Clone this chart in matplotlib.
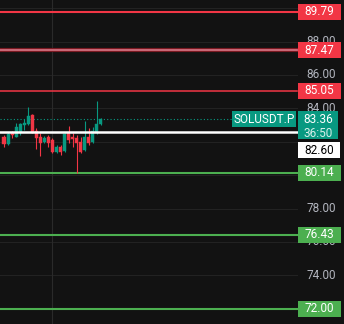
import matplotlib.pyplot as plt
import numpy as np

# candles (oldest -> newest)
opens = [82.31, 81.87, 82.55, 82.31, 82.60, 82.99, 83.05, 83.62, 82.67, 82.31, 81.97, 82.31, 82.11,
         81.39, 81.71, 81.47, 82.51, 82.31, 82.21, 82.01, 81.51, 82.31, 82.01, 82.51, 83.05]
highs = [82.41, 82.60, 82.67, 83.10, 83.15, 83.35, 84.10, 83.66, 82.81, 82.51, 82.35, 82.41, 82.21,
         81.81, 81.81, 82.55, 82.95, 82.51, 82.41, 82.31, 83.26, 82.85, 82.90, 84.44, 83.41]
lows = [81.71, 81.81, 82.21, 82.27, 82.41, 82.71, 82.99, 82.51, 81.55, 81.15, 81.91, 81.71, 81.31,
        81.31, 81.21, 81.41, 81.91, 81.67, 80.15, 81.35, 81.47, 81.81, 81.95, 82.47, 83.00]
closes = [81.87, 82.47, 82.41, 82.90, 83.05, 83.10, 83.56, 82.55, 82.21, 81.95, 82.25, 81.95, 81.39,
          81.71, 81.41, 82.47, 82.11, 82.15, 81.91, 81.41, 82.31, 81.95, 82.67, 83.07, 83.36]

resistance = [89.79, 87.47, 85.05]
support = [80.14, 76.43, 72.00]
ticks = [90, 88, 86, 84, 82, 80, 78, 76, 74, 72]
symbol = 'SOLUSDT.P'
last_price = 83.36
countdown = '36:50'
cur_price = 82.60

BG = '#121212'
UP = '#089981'
DOWN = '#f23645'
GREEN = '#4caf50'
AXIS_TXT = '#b2b5be'

plt.rcParams['font.family'] = ['Roboto', 'DejaVu Sans']

fig = plt.figure(figsize=(3.44, 3.24), dpi=100)
fig.patch.set_facecolor(BG)
ax = fig.add_axes([0, 0, 1, 1])
ax.set_facecolor(BG)
ax.set_axis_off()

ymin, ymax = 71.09, 90.49
ax.set_ylim(ymin, ymax)
ax.set_xlim(-0.99, 84.16)
px = (ymax - ymin) / 324  # one pixel in price units
xend = 297 / 344  # where the price scale starts

# grid
for t in ticks:
    ax.axhline(t, xmax=xend, color='#222222', lw=0.8, zorder=0)
ax.axvline(12, color='#2a2a2a', lw=0.8, zorder=0)

# candles
o = np.array(opens)
c = np.array(closes)
x = np.arange(len(o))
cols = np.where(c >= o, UP, DOWN)
ax.vlines(x, lows, highs, colors=cols, lw=0.8, zorder=3)
ax.bar(x, np.maximum(np.abs(c - o), px), bottom=np.minimum(o, c), width=0.75,
       color=cols, edgecolor=cols, lw=0.3, zorder=4)

# alert lines
for i, lv in enumerate(resistance):
    if i == 1:
        ax.axhline(lv, xmax=xend, color='#7a1a22', lw=3.0, zorder=2)
        ax.axhline(lv, xmax=xend, color='#d07080', lw=1.3, zorder=2)
    else:
        ax.axhline(lv, xmax=xend, color=DOWN, lw=1.5 if i == 0 else 1.1, zorder=2)
for lv in support:
    ax.axhline(lv, xmax=xend, color=GREEN, lw=1.5, zorder=2)

ax.axhline(cur_price, xmax=xend, color='white', lw=1.8, zorder=5)
ax.axhline(last_price, xmax=232 / 344, color=UP, lw=0.8, ls=(0, (1, 2)), zorder=2)

tr = ax.get_yaxis_transform()

# last price block (price + countdown) spans two rows
blk_top = last_price + 8 * px
blk_bot = blk_top - 28 * px
cur_y = blk_bot - 11 * px  # current price label pushed below the block

# price scale tick labels (skip the ones that sit fully under a label box)
levels = resistance + support
for t in ticks:
    if min(abs(t - lv) for lv in levels) < 4 * px or cur_y < t < blk_top - 4 * px:
        continue
    ax.text(321 / 344, t, f'{t:.2f}', transform=tr, ha='center', va='center',
            fontsize=8.5, color=AXIS_TXT, zorder=6)


def label(y, text, fc, tc='white', x0=298, x1=341, h=16):
    ax.add_patch(plt.Rectangle((x0 / 344, y - h / 2 * px), (x1 - x0) / 344, h * px,
                               transform=tr, facecolor=fc, edgecolor='none', zorder=7))
    ax.text((x0 + x1) / 2 / 344, y, text, transform=tr, ha='center', va='center',
            fontsize=8.5, color=tc, zorder=8)


for lv in resistance:
    label(lv, f'{lv:.2f}', DOWN)
for lv in support:
    label(lv, f'{lv:.2f}', GREEN)

ax.add_patch(plt.Rectangle((298 / 344, blk_bot), 40 / 344, blk_top - blk_bot, transform=tr,
                           facecolor=UP, edgecolor='none', zorder=7))
ax.text(318 / 344, last_price, f'{last_price:.2f}', transform=tr, ha='center',
        va='center', fontsize=8.5, color='white', zorder=8)
ax.text(318 / 344, last_price - 14 * px, countdown, transform=tr, ha='center',
        va='center', fontsize=8.5, color='#d8efea', zorder=8)
label(last_price, symbol, UP, x0=232, x1=296)

label(cur_y, f'{cur_price:.2f}', 'white', tc='black', x1=340)

fig.savefig('out.png', dpi=100, facecolor=BG)
